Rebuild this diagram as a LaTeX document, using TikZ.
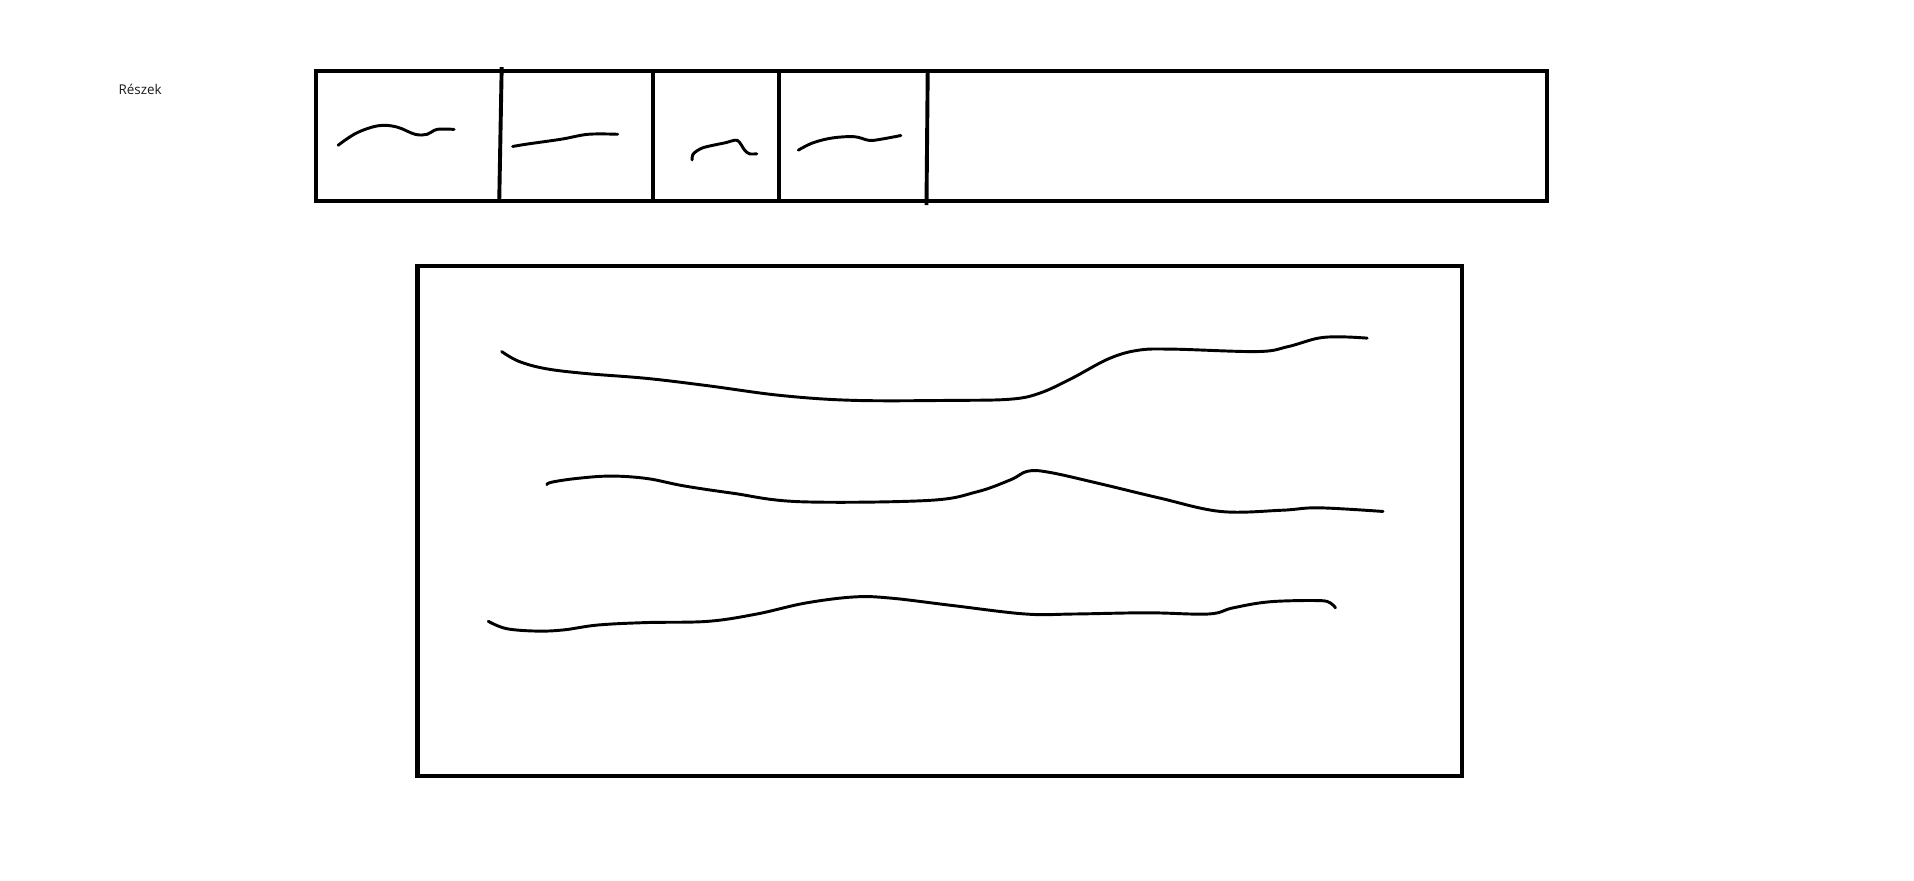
\documentclass[tikz,border=0pt]{standalone}
\usepackage{fontspec}
\setmainfont{Open Sans}
\begin{document}
\begin{tikzpicture}[x=1pt,y=-1pt,
  frame/.style={draw=black,line width=3.4pt,line join=miter},
  divider/.style={draw=black,line width=3.2pt},
  sq/.style={draw=black,line width=2.4pt,line cap=round,line join=round},
  lbl/.style={font=\fontsize{11}{13}\selectfont,text=black!90,inner sep=0pt,anchor=west}]
\useasboundingbox[fill=white] (0,0) rectangle (1568,721);
% label
\node[lbl] (label) at (97,73) {Részek};
% top bar
\draw[frame] (259,58) rectangle (1267,165);
\draw[divider] (411,55) -- (409,164);
\draw[divider] (535,57) -- (535,164);
\draw[divider] (638,58) -- (638,164);
\draw[divider] (760,59) -- (759,168);
% squiggles in cells
\draw[sq] plot[smooth,tension=0.6] coordinates {(277,119) (292,109) (310,103) (325,104) (340,110) (350,110) (358,106) (372,106)};
\draw[sq] plot[smooth,tension=0.6] coordinates {(420,120) (432,118) (460,114) (482,110) (506,110)};
\draw[sq] plot[smooth,tension=0.5] coordinates {(567,131) (568,126) (576,121) (594,117) (604,115) (610,123) (614,126) (620,126)};
\draw[sq] plot[smooth,tension=0.6] coordinates {(654,123) (666,117) (682,113) (700,112) (712,115) (722,114) (738,111)};
% big box
\draw[frame] (342,218) rectangle (1198,636);
\draw[sq] plot[smooth,tension=0.6] coordinates {(411,288) (425,296) (447,302) (480,306) (530,310) (580,316) (640,324) (700,328) (780,328) (828,327) (852,322) (878,310) (908,294) (932,287) (960,286) (1030,288) (1055,284) (1080,277) (1100,276) (1120,277)};
\draw[sq] plot[smooth,tension=0.6] coordinates {(448,397) (452,395) (472,392) (500,390) (530,392) (560,398) (600,404) (655,411) (760,410) (800,403) (828,393) (842,386) (860,387) (900,396) (950,408) (1000,419) (1050,418) (1080,416) (1133,419)};
\draw[sq] plot[smooth,tension=0.6] coordinates {(400,509) (415,515) (440,517) (462,516) (490,512) (530,510) (580,509) (620,503) (660,494) (700,489) (730,490) (780,496) (840,503) (880,503) (940,502) (990,503) (1010,498) (1040,493) (1080,492) (1090,494) (1094,498)};
\end{tikzpicture}
\end{document}
